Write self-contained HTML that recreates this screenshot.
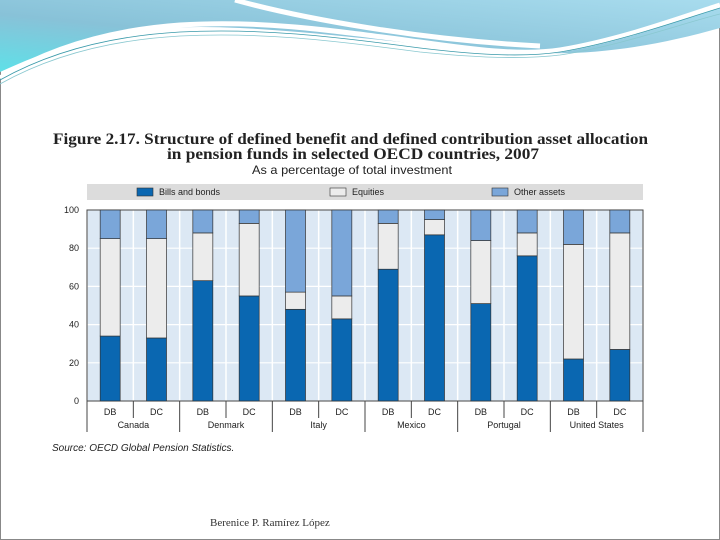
<!DOCTYPE html>
<html><head><meta charset="utf-8"><style>
body{margin:0;width:720px;height:540px;overflow:hidden;background:#fff;font-family:"Liberation Sans",sans-serif}
</style></head><body>
<svg width="720" height="540" style="position:absolute;left:0;top:0">
<defs><linearGradient id="g1" x1="0" y1="1" x2="1" y2="0"><stop offset="0" stop-color="#5fe0e8"/><stop offset="0.4" stop-color="#88c2d8"/><stop offset="1" stop-color="#a8dcee"/></linearGradient></defs>
<rect x="0.5" y="0.5" width="719" height="539" fill="#fff" stroke="#888"/>
<path d="M0,0 H720 V28 C660,45 600,55 540,53 C450,50 330,32 240,28 C160,24 90,30 0,72 Z" fill="url(#g1)"/>
<path d="M0,78 C50,48 110,30 180,25 C260,20 330,30 420,42 C470,49 520,56 560,50 C620,40 680,18 720,5" stroke="#fff" stroke-width="5" fill="none"/>
<path d="M235,0 C300,18 420,40 540,46" stroke="#fff" stroke-width="5" fill="none"/>
<path d="M0,80 C50,52 110,36 180,32 C260,28 330,36 420,48 C470,54 520,58 560,52 C620,42 680,20 720,8" stroke="#3a9aaa" stroke-width="0.8" fill="none"/>
<path d="M0,84 C50,56 110,40 180,36 C260,32 330,40 420,52 C470,57 520,60 560,55 C620,46 680,24 720,14" stroke="#8ac8d0" stroke-width="0.8" fill="none"/>
<rect x="48" y="125" width="628" height="332" fill="#fff"/>
<text x="53" y="144" font-family="Liberation Serif,serif" font-size="16" font-weight="bold" fill="#222" textLength="595" lengthAdjust="spacingAndGlyphs">Figure 2.17.  Structure of defined benefit and defined contribution asset allocation</text>
<text x="167" y="159" font-family="Liberation Serif,serif" font-size="16" font-weight="bold" fill="#222" textLength="372" lengthAdjust="spacingAndGlyphs">in pension funds in selected OECD countries, 2007</text>
<text x="252" y="174" font-size="12" fill="#222" textLength="200" lengthAdjust="spacingAndGlyphs">As a percentage of total investment</text>
<text x="52" y="451" font-size="10" font-style="italic" fill="#222">Source:  OECD Global Pension Statistics.</text>
<text x="210" y="526" font-family="Liberation Serif,serif" font-size="11" fill="#333">Berenice P. Ramírez López</text>
<g id="chart"></g>
</svg>
<script>
const countries=["Canada","Denmark","Italy","Mexico","Portugal","United States"];
const plans=["DB","DC"];
const bonds=[34,33,63,55,48,43,69,87,51,76,22,27];
const equities=[51,52,25,38,9,12,24,8,33,12,60,61];
const other=[15,15,12,7,43,45,7,5,16,12,18,12];
const yTicks=[0,20,40,60,80,100];
const NS="http://www.w3.org/2000/svg";
const g=document.getElementById("chart");
const L=87,R=643,T=210,B=401;
const y=v=>B-(B-T)*v/100;
const slot=(R-L)/bonds.length;
const x=i=>L+slot*i+slot/2;
function mk(t,a,p){const e=document.createElementNS(NS,t);for(const k in a)e.setAttribute(k,a[k]);(p||g).appendChild(e);return e;}
mk("rect",{x:87,y:184,width:556,height:16,fill:"#dcdcdc"});
const leg=[["Bills and bonds","#0a67b1",137],["Equities","#ececec",330],["Other assets","#7aa6d9",492]];
leg.forEach(l=>{const r=mk("rect",{x:l[2],y:188,width:16,height:8,fill:l[1],stroke:"#333","stroke-width":0.6});


const t=mk("text",{x:l[2]+22,y:195,"font-size":9,fill:"#222"});t.textContent=l[0];

});
mk("rect",{x:L,y:T,width:R-L,height:B-T,fill:"#dce8f4"});
for(let i=0;i<=bonds.length;i++){mk("line",{x1:L+slot*i,x2:L+slot*i,y1:T,y2:B,stroke:"#fff","stroke-width":1.5});}
yTicks.forEach(v=>{mk("line",{x1:L,x2:R,y1:y(v),y2:y(v),stroke:"#fff","stroke-width":1.2});
const t=mk("text",{x:79,y:y(v)+3,"font-size":9,"text-anchor":"end",fill:"#222"});t.textContent=v;

});
mk("rect",{x:L,y:T,width:R-L,height:B-T,fill:"none",stroke:"#444","stroke-width":1});
const bw=20;
bonds.forEach((b,i)=>{
 const segs=[[0,b,"#0a67b1","bar-bonds"],[b,b+equities[i],"#ececec","bar-equities"],[b+equities[i],b+equities[i]+other[i],"#7aa6d9","bar-other"]];
 segs.forEach(s=>{const r=mk("rect",{x:x(i)-bw/2,y:y(s[1]),width:bw,height:y(s[0])-y(s[1]),fill:s[2],stroke:"#333","stroke-width":0.7});
 
 });
 const t=mk("text",{x:x(i),y:415,"font-size":9,"text-anchor":"middle",fill:"#222"});t.textContent=plans[i%2];
 
 
});
countries.forEach((c,k)=>{
 const x0=L+slot*2*k;
 mk("line",{x1:x0,x2:x0,y1:B,y2:432,stroke:"#444","stroke-width":1});
 mk("line",{x1:x0+slot,x2:x0+slot,y1:B,y2:418,stroke:"#444","stroke-width":1});
 const t=mk("text",{x:x0+slot,y:428,"font-size":9,"text-anchor":"middle",fill:"#222"});t.textContent=c;
 
 
});
mk("line",{x1:R,x2:R,y1:B,y2:432,stroke:"#444","stroke-width":1});
</script>
</body></html>
